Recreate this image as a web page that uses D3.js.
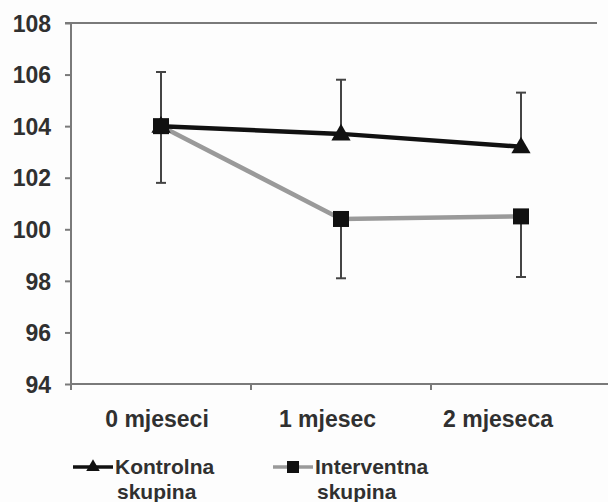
<!DOCTYPE html>
<html><head><meta charset="utf-8">
<script src="https://cdn.jsdelivr.net/npm/d3@7"></script>
<style>html,body{margin:0;padding:0;background:#fdfdfd;}svg{display:block;}</style>
</head><body>
<script>
const categories = ["0 mjeseci", "1 mjesec", "2 mjeseca"];
const kontrolna = [104.0, 103.7, 103.2];
const kontrolnaErrUp = [2.1, 2.1, 2.1];
const interventna = [104.0, 100.4, 100.5];
const interventnaErrDown = [2.2, 2.3, 2.35];
const yTicks = [94, 96, 98, 100, 102, 104, 106, 108];
const seriesNames = ["Kontrolna", "Interventna"];

(function () {
const W = 608, H = 502;
const svg = d3.select("body").append("svg").attr("width", W).attr("height", H);
svg.append("rect").attr("width", W).attr("height", H).attr("fill", "#fdfdfd");

const mL = 71, mT = 23, mB = 384, mR = 611;
const x = d3.scaleBand().domain(categories).range([mL, mR]);
const xLab = d3.scalePoint().domain(categories).range([157, 498]);
const y = d3.scaleLinear().domain([94, 108]).range([mB, mT]);
const font = "'Liberation Sans', Arial, sans-serif";
const axisCol = "#7a7a7a";
const txtCol = "#303030";

// top border
svg.append("line").attr("x1", mL).attr("x2", 597).attr("y1", y(108)).attr("y2", y(108))
  .attr("stroke", axisCol).attr("stroke-width", 2);

// y axis
const yAxis = svg.append("g").attr("transform", `translate(${mL},0)`)
  .call(d3.axisLeft(y).tickValues(yTicks).tickSize(6).tickPadding(14).tickFormat(d3.format("d")));
yAxis.select(".domain").attr("stroke", axisCol).attr("stroke-width", 2).attr("d", `M-6,${y(108)}H0V${mB + 6}`);
yAxis.selectAll(".tick line").attr("stroke", axisCol).attr("stroke-width", 2);
yAxis.selectAll(".tick text").attr("font-family", font).attr("font-size", 23).attr("fill", txtCol)
  .attr("font-weight", "bold").attr("dy", "0.36em");

// x axis
const xAxis = svg.append("g").attr("transform", `translate(0,${mB})`)
  .call(d3.axisBottom(x).tickSize(0).tickFormat(""));
xAxis.select(".domain").attr("stroke", axisCol).attr("stroke-width", 2).attr("d", `M${mL},0H${W}`);
xAxis.selectAll(".tick").remove();
const bounds = [mL, mL + x.bandwidth(), mL + 2 * x.bandwidth()];
svg.append("g").selectAll("line").data(bounds).join("line")
  .attr("x1", d => d).attr("x2", d => d).attr("y1", mB).attr("y2", mB + 6)
  .attr("stroke", axisCol).attr("stroke-width", 2);
svg.append("g").selectAll("text").data(categories).join("text")
  .attr("x", d => xLab(d)).attr("y", 427).attr("text-anchor", "middle")
  .attr("font-family", font).attr("font-size", 23).attr("font-weight", "bold").attr("fill", txtCol)
  .text(d => d);

const cx = c => x(c) + x.bandwidth() / 2;
const errCol = "#444";

function errorBars(vals, errs, dir) {
  const g = svg.append("g");
  categories.forEach((c, i) => {
    const v0 = vals[i], v1 = vals[i] + dir * errs[i];
    g.append("line").attr("x1", cx(c)).attr("x2", cx(c)).attr("y1", y(v0)).attr("y2", y(v1))
      .attr("stroke", errCol).attr("stroke-width", 2);
    g.append("line").attr("x1", cx(c) - 5).attr("x2", cx(c) + 5).attr("y1", y(v1)).attr("y2", y(v1))
      .attr("stroke", errCol).attr("stroke-width", 2);
  });
}
errorBars(kontrolna, kontrolnaErrUp, 1);
errorBars(interventna, interventnaErrDown, -1);

const line = d3.line().x((d, i) => cx(categories[i])).y(d => y(d));
svg.append("path").datum(interventna).attr("d", line).attr("fill", "none")
  .attr("stroke", "#9a9a9a").attr("stroke-width", 4.5);
svg.append("path").datum(kontrolna).attr("d", line).attr("fill", "none")
  .attr("stroke", "#111").attr("stroke-width", 4.5);

const tri = d3.symbol().type(d3.symbolTriangle).size(160);
svg.append("g").selectAll("path").data(kontrolna).join("path")
  .attr("d", tri).attr("fill", "#111")
  .attr("transform", (d, i) => `translate(${cx(categories[i])},${y(d) + 1})`);
svg.append("g").selectAll("rect").data(interventna).join("rect")
  .attr("x", (d, i) => cx(categories[i]) - 8).attr("y", d => y(d) - 8)
  .attr("width", 16).attr("height", 16).attr("fill", "#111");

// legend
const leg = [
  {name: seriesNames[0], x0: 73, col: "#111", sym: "tri"},
  {name: seriesNames[1], x0: 273, col: "#9a9a9a", sym: "sq"}
];
leg.forEach(l => {
  const g = svg.append("g");
  g.append("line").attr("x1", l.x0).attr("x2", l.x0 + 40).attr("y1", 467).attr("y2", 467)
    .attr("stroke", l.col).attr("stroke-width", 3.5);
  if (l.sym === "tri") {
    g.append("path").attr("d", d3.symbol().type(d3.symbolTriangle).size(80))
      .attr("transform", `translate(${l.x0 + 20},467)`).attr("fill", "#111");
  } else {
    g.append("rect").attr("x", l.x0 + 14).attr("y", 461).attr("width", 12).attr("height", 12).attr("fill", "#111");
  }
  const t = g.append("text").attr("font-family", font).attr("font-size", 21).attr("font-weight", "bold").attr("fill", txtCol);
  t.append("tspan").attr("x", l.x0 + 42).attr("y", 474).text(l.name);
  t.append("tspan").attr("x", l.x0 + 44).attr("y", 499).text("skupina");
});
})();
</script>
</body></html>
